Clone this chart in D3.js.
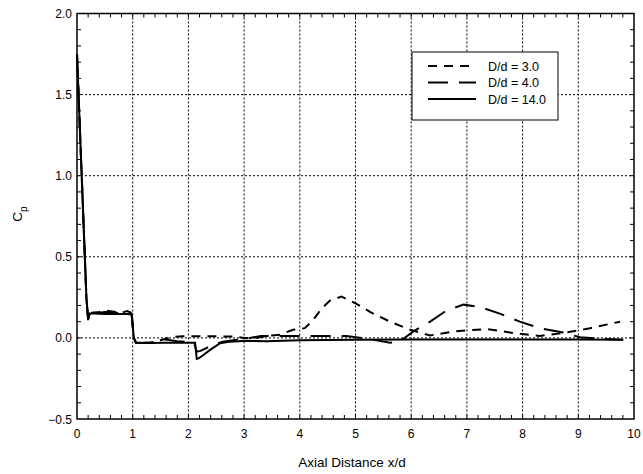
<!DOCTYPE html>
<html>
<head>
<meta charset="utf-8">
<script src="https://cdn.jsdelivr.net/npm/d3@7"></script>
<style>
  body { margin: 0; background: #fff; }
  svg { display: block; font-family: "Liberation Sans", Arial, sans-serif; }
</style>
</head>
<body>
<svg id="chart" width="643" height="474"></svg>
<script>
// series: D/d = 3.0 (short dash)
var x30 = [0, 0.17, 0.2, 0.23, 0.4, 0.5, 0.6, 0.8, 0.9, 0.98, 1.02, 1.06, 1.3, 1.5, 1.7, 1.9, 2.1, 2.5, 2.8, 3.0, 3.2, 3.5, 3.64, 3.88, 4.09, 4.24, 4.39, 4.54, 4.75, 5.02, 5.26, 5.62, 5.98, 6.34, 6.76, 7.36, 7.83, 8.31, 8.73, 9.21, 9.75];
var y30 = [1.75, 0.24, 0.12, 0.155, 0.16, 0.17, 0.165, 0.155, 0.165, 0.155, 0.0, -0.03, -0.03, -0.015, 0.005, 0.01, 0.01, 0.01, 0.008, 0.0, 0.0, 0.015, 0.02, 0.05, 0.06, 0.11, 0.18, 0.23, 0.255, 0.21, 0.16, 0.10, 0.05, 0.015, 0.04, 0.055, 0.03, 0.012, 0.03, 0.06, 0.10];

// series: D/d = 4.0 (long dash)
var x40 = [0, 0.17, 0.2, 0.23, 0.4, 0.5, 0.6, 0.8, 0.9, 0.98, 1.02, 1.06, 1.4, 1.6, 1.8, 2.1, 2.15, 2.22, 2.4, 2.6, 2.9, 3.1, 3.3, 3.7, 4.2, 4.84, 5.26, 5.62, 5.8, 6.04, 6.34, 6.64, 6.94, 7.24, 7.59, 7.95, 8.31, 8.73, 9.03, 9.4, 9.81];
var y40 = [1.75, 0.24, 0.12, 0.155, 0.155, 0.16, 0.16, 0.15, 0.16, 0.15, 0.0, -0.03, -0.03, -0.01, -0.02, -0.03, -0.085, -0.08, -0.05, -0.025, -0.01, 0.0, 0.012, 0.012, 0.012, 0.012, -0.008, -0.03, -0.02, 0.04, 0.10, 0.17, 0.205, 0.19, 0.15, 0.10, 0.06, 0.033, 0.004, -0.005, -0.012];

// series: D/d = 14.0 (solid)
var x14 = [0, 0.17, 0.2, 0.23, 0.3, 0.5, 0.7, 0.9, 0.98, 1.02, 1.06, 1.3, 1.6, 1.9, 2.12, 2.15, 2.19, 2.25, 2.39, 2.57, 2.75, 3.05, 3.4, 4.0, 5.0, 6.0, 7.0, 8.0, 9.0, 9.8];
var y14 = [1.75, 0.24, 0.11, 0.15, 0.15, 0.148, 0.147, 0.147, 0.145, 0.0, -0.03, -0.032, -0.03, -0.03, -0.03, -0.13, -0.125, -0.11, -0.074, -0.033, -0.023, -0.018, -0.02, -0.015, -0.012, -0.01, -0.01, -0.01, -0.01, -0.012];

var seriesNames = ["D/d = 3.0", "D/d = 4.0", "D/d = 14.0"];
var xTicks = [0, 1, 2, 3, 4, 5, 6, 7, 8, 9, 10];
var yTicks = [-0.5, 0, 0.5, 1.0, 1.5, 2.0];

var svg = d3.select("#chart");
var plotL = 77, plotR = 634, plotT = 13.5, plotB = 419;

var x = d3.scaleLinear().domain([0, 10]).range([plotL, plotR]);
var y = d3.scaleLinear().domain([-0.5, 2.0]).range([plotB, plotT]);

// grid
svg.append("g").selectAll("line")
  .data(xTicks.slice(1, -1)).enter().append("line")
  .attr("x1", d => x(d)).attr("x2", d => x(d))
  .attr("y1", plotT).attr("y2", plotB)
  .attr("stroke", "#000").attr("stroke-width", 1).attr("stroke-dasharray", "2,2");
svg.append("g").selectAll("line")
  .data(yTicks.slice(1, -1)).enter().append("line")
  .attr("y1", d => y(d)).attr("y2", d => y(d))
  .attr("x1", plotL).attr("x2", plotR)
  .attr("stroke", "#000").attr("stroke-width", 1).attr("stroke-dasharray", "2,2");

// minor ticks, inward on all sides
var xMinor = d3.range(1, 50).map(i => i * 0.2);
var yMinor = d3.range(-4, 20).map(i => i * 0.1);
var tg = svg.append("g").attr("stroke", "#000").attr("stroke-width", 1);
xMinor.forEach(function(v) {
  tg.append("line").attr("x1", x(v)).attr("x2", x(v)).attr("y1", plotB).attr("y2", plotB - 4);
  tg.append("line").attr("x1", x(v)).attr("x2", x(v)).attr("y1", plotT).attr("y2", plotT + 4);
});
yMinor.forEach(function(v) {
  tg.append("line").attr("y1", y(v)).attr("y2", y(v)).attr("x1", plotL).attr("x2", plotL + 4);
  tg.append("line").attr("y1", y(v)).attr("y2", y(v)).attr("x1", plotR).attr("x2", plotR - 4);
});

// tick labels
svg.append("g").selectAll("text")
  .data(xTicks).enter().append("text")
  .attr("x", d => x(d)).attr("y", 438)
  .attr("text-anchor", "middle").attr("font-size", 12)
  .text(d => d3.format("d")(d));
svg.append("g").selectAll("text")
  .data(yTicks).enter().append("text")
  .attr("x", 72).attr("y", d => y(d) + 4.5)
  .attr("text-anchor", "end").attr("font-size", 12)
  .text(d => d3.format(".1f")(d));

// axis titles
svg.append("text")
  .attr("x", 352).attr("y", 467)
  .attr("text-anchor", "middle").attr("font-size", 13.5)
  .text("Axial Distance x/d");
var yt = svg.append("text")
  .attr("transform", "translate(22,214) rotate(-90)")
  .attr("text-anchor", "middle").attr("font-size", 13.5);
yt.append("tspan").text("C");
yt.append("tspan").attr("dy", 5).attr("font-size", 10).text("p");

// lines
var line = d3.line().x(d => x(d[0])).y(d => y(d[1]));
var series = [
  { xs: x30, ys: y30, dash: "9,7" },
  { xs: x40, ys: y40, dash: "20,11" },
  { xs: x14, ys: y14, dash: null }
];
series.forEach(function(s) {
  svg.append("path")
    .datum(d3.zip(s.xs, s.ys))
    .attr("d", line)
    .attr("fill", "none")
    .attr("stroke", "#000")
    .attr("stroke-width", 2)
    .attr("stroke-dasharray", s.dash);
});

// frame
svg.append("rect")
  .attr("x", plotL).attr("y", plotT)
  .attr("width", plotR - plotL).attr("height", plotB - plotT)
  .attr("fill", "none").attr("stroke", "#000").attr("stroke-width", 1.5);

// legend
var lg = svg.append("g");
lg.append("rect")
  .attr("x", 412).attr("y", 52).attr("width", 146).attr("height", 68)
  .attr("fill", "#fff").attr("stroke", "#000").attr("stroke-width", 1);
seriesNames.forEach(function(name, i) {
  var yy = 66 + i * 16.5;
  lg.append("line")
    .attr("x1", 428).attr("x2", 476).attr("y1", yy).attr("y2", yy)
    .attr("stroke", "#000").attr("stroke-width", 2)
    .attr("stroke-dasharray", series[i].dash);
  lg.append("text")
    .attr("x", 488).attr("y", yy + 4.5)
    .attr("font-size", 12.5)
    .text(name);
});
</script>
</body>
</html>
